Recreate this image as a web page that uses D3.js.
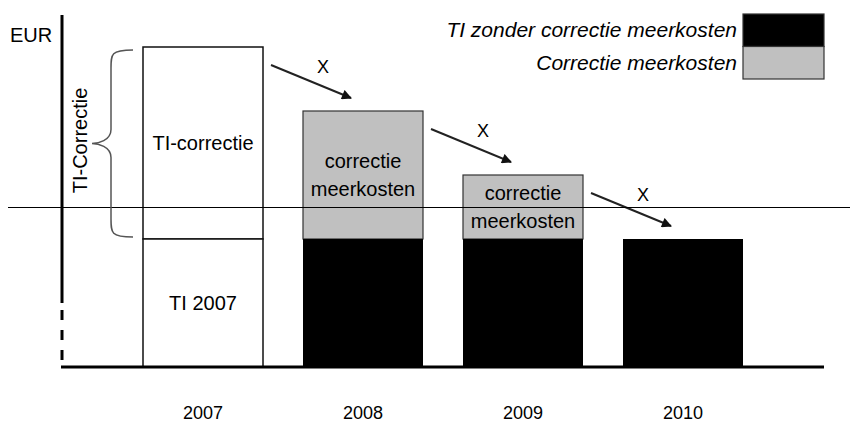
<!DOCTYPE html>
<html>
<head>
<meta charset="utf-8">
<script src="https://cdn.jsdelivr.net/npm/d3@7"></script>
<style>
  body { margin: 0; background: #fff; }
  text { font-family: "Liberation Sans", Arial, sans-serif; }
</style>
</head>
<body>
<div id="chart"></div>
<script>
// chart values
const years = ["2007", "2008", "2009", "2010"];
const baseValues = [40, 40, 40, 40];          // TI zonder correctie meerkosten
const correctionValues = [60, 40, 20, 0];     // correctie (2007: TI-correctie)
const referenceValue = 50;
const barLabels = [["TI-correctie"], ["correctie", "meerkosten"], ["correctie", "meerkosten"], []];
const legendItems = ["TI zonder correctie meerkosten", "Correctie meerkosten"];

const width = 850, height = 429;

const svg = d3.select("#chart").append("svg")
  .attr("width", width)
  .attr("height", height);

const x = d3.scaleBand()
  .domain(years)
  .range([63, 823])
  .paddingInner(0.25)
  .paddingOuter(0.5);

const y = d3.scaleLinear()
  .domain([0, 110])
  .range([367, 15]);

const gray = "#c0c0c0";

svg.append("defs").append("marker")
  .attr("id", "arrow")
  .attr("viewBox", "0 0 10 10")
  .attr("refX", 9).attr("refY", 5)
  .attr("markerWidth", 6).attr("markerHeight", 5)
  .attr("markerUnits", "strokeWidth")
  .attr("orient", "auto")
  .append("path")
  .attr("d", "M0,0 L10,5 L0,10 Z")
  .attr("fill", "#111");

// bars
const bars = svg.append("g");
years.forEach((yr, i) => {
  const bx = x(yr), bw = x.bandwidth();
  const top = y(baseValues[i] + correctionValues[i]);
  const mid = y(baseValues[i]);
  if (i === 0) {
    bars.append("rect").attr("x", bx).attr("y", top).attr("width", bw).attr("height", mid - top)
      .attr("fill", "#fff").attr("stroke", "#111").attr("stroke-width", 1.5);
    bars.append("rect").attr("x", bx).attr("y", mid).attr("width", bw).attr("height", y(0) - mid)
      .attr("fill", "#fff").attr("stroke", "#111").attr("stroke-width", 1.5);
    bars.append("text").attr("x", bx + bw / 2).attr("y", (mid + y(0)) / 2 + 7)
      .attr("text-anchor", "middle").attr("font-size", 20).text("TI " + yr);
  } else {
    if (correctionValues[i] > 0) {
      bars.append("rect").attr("x", bx).attr("y", top).attr("width", bw).attr("height", mid - top)
        .attr("fill", gray).attr("stroke", "#333").attr("stroke-width", 1.2);
    }
    bars.append("rect").attr("x", bx).attr("y", mid).attr("width", bw).attr("height", y(0) - mid)
      .attr("fill", "#000");
  }
  const lines = barLabels[i];
  const cy = i === 0 ? (top + mid) / 2 + 7 : (top + mid) / 2 - (lines.length - 1) * 14 + 7;
  lines.forEach((t, k) => {
    bars.append("text").attr("x", bx + bw / 2).attr("y", cy + k * 28)
      .attr("text-anchor", "middle").attr("font-size", 20).text(t);
  });
});

// arrows with X
for (let i = 0; i < years.length - 1; i++) {
  const x1 = x(years[i]) + x.bandwidth() + 8;
  const y1 = y(baseValues[i] + correctionValues[i]) + 18;
  const x2 = x(years[i + 1]) + 48;
  const y2 = y(baseValues[i + 1] + correctionValues[i + 1]) - 13;
  svg.append("line").attr("x1", x1).attr("y1", y1).attr("x2", x2).attr("y2", y2)
    .attr("stroke", "#222").attr("stroke-width", 2).attr("marker-end", "url(#arrow)");
  svg.append("text").attr("x", x1 + 52).attr("y", y1 + 8)
    .attr("text-anchor", "middle").attr("font-size", 18).text("X");
}

// reference line
svg.append("line").attr("x1", 8).attr("x2", 850)
  .attr("y1", y(referenceValue) + 0.5).attr("y2", y(referenceValue) + 0.5)
  .attr("stroke", "#000").attr("stroke-width", 1);

// axes
svg.append("line").attr("x1", 62).attr("x2", 62).attr("y1", y(110)).attr("y2", 303)
  .attr("stroke", "#000").attr("stroke-width", 3);
svg.append("line").attr("x1", 62).attr("x2", 62).attr("y1", 310).attr("y2", y(0))
  .attr("stroke", "#000").attr("stroke-width", 3).attr("stroke-dasharray", "10,10");
svg.append("line").attr("x1", 61).attr("x2", 824).attr("y1", y(0)).attr("y2", y(0))
  .attr("stroke", "#000").attr("stroke-width", 3);

svg.append("text").attr("x", 10).attr("y", 42).attr("font-size", 20).text("EUR");

// year labels
svg.append("g").selectAll("text").data(years).join("text")
  .attr("x", d => x(d) + x.bandwidth() / 2)
  .attr("y", 419)
  .attr("text-anchor", "middle")
  .attr("font-size", 18)
  .text(d => d);

// brace for TI-Correctie
const bTop = y(baseValues[0] + correctionValues[0]) + 3;
const bBot = y(baseValues[0]) - 2;
const bMid = (bTop + bBot) / 2;
const bx0 = 133, bx1 = 111, tip = 92;
svg.append("path")
  .attr("d", `M${bx0},${bTop} C${bx1},${bTop} ${bx1},${bTop + 4} ${bx1},${bTop + 18}
    L${bx1},${bMid - 14} C${bx1},${bMid - 3} ${tip + 6},${bMid} ${tip},${bMid}
    C${tip + 6},${bMid} ${bx1},${bMid + 3} ${bx1},${bMid + 14}
    L${bx1},${bBot - 18} C${bx1},${bBot - 4} ${bx1},${bBot} ${bx0},${bBot}`)
  .attr("fill", "none").attr("stroke", "#555").attr("stroke-width", 1.5);
svg.append("text")
  .attr("transform", `translate(87,${bMid - 3}) rotate(-90)`)
  .attr("text-anchor", "middle").attr("font-size", 20).text("TI-Correctie");

// legend
const legend = svg.append("g");
const lx = 743, lw = 81, lh = 32.5;
legendItems.forEach((t, i) => {
  legend.append("rect").attr("x", lx).attr("y", 14 + i * lh).attr("width", lw).attr("height", lh)
    .attr("fill", i === 0 ? "#000" : gray).attr("stroke", "#333").attr("stroke-width", 1.2);
  legend.append("text").attr("x", 737).attr("y", 14 + i * lh + lh / 2 + 7)
    .attr("text-anchor", "end").attr("font-style", "italic").attr("font-size", 21).text(t);
});
</script>
</body>
</html>
